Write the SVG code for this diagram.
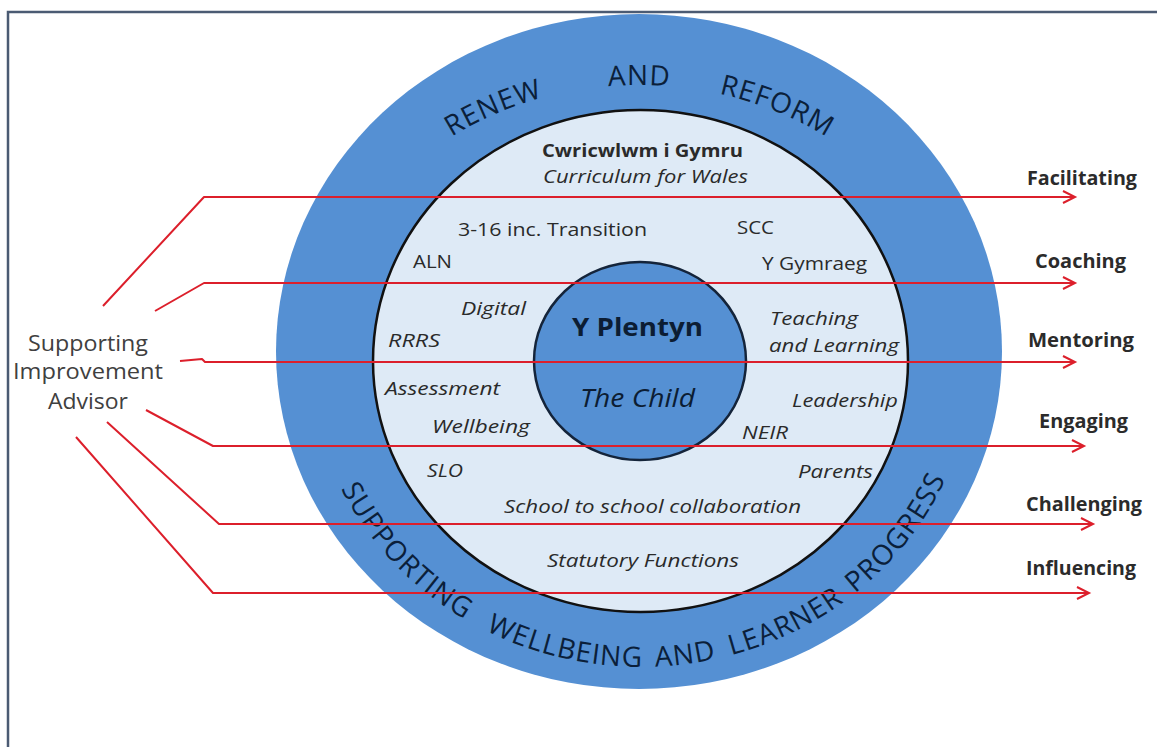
<svg xmlns="http://www.w3.org/2000/svg" width="1157" height="747" viewBox="0 0 1157 747">
<style>
.t{font-family:"Open Sans","Liberation Sans",sans-serif;font-size:18px;fill:#2a2a2a}
.i{font-style:italic}
.b{font-weight:bold}
.cw{font-size:17.5px}
.yp{font-size:25px;fill:#0c1d33}
.tc{font-size:26px;fill:#0c1d33}
.arc{font-family:"Open Sans","Liberation Sans",sans-serif;font-size:28px;font-weight:500;fill:#0b1f3a;letter-spacing:1px}
.lbl{font-family:"Open Sans","Liberation Sans",sans-serif;font-size:19.5px;font-weight:bold;fill:#2b2b2b}
.side{font-family:"Open Sans","Liberation Sans",sans-serif;font-size:22px;fill:#404040}
.conn{fill:none;stroke:#dc1f2b;stroke-width:2;stroke-linejoin:round}
</style>
<defs>
<marker id="ah" markerUnits="userSpaceOnUse" markerWidth="16" markerHeight="16" refX="13" refY="7" orient="auto">
<path d="M1,1 L13,7 L1,13" fill="none" stroke="#dc1f2b" stroke-width="2"/>
</marker>
<path id="topArc" d="M323,351 A316,266 0 0 1 955,351"/>
<path id="botArc" d="M309,355 A332,312 0 0 0 973,355"/>
</defs>
<rect width="1157" height="747" fill="#ffffff"/>
<g id="frame"><path d="M8,747 L8,12 L1157,12" fill="none" stroke="#4b5b73" stroke-width="2.5"/></g>

<g id="outer-ring">
<ellipse cx="639" cy="351.5" rx="363" ry="337.5" fill="#5590d3"/>
<text class="arc"><textPath href="#topArc" startOffset="311" text-anchor="middle">RENEW</textPath></text>
<text class="arc"><textPath href="#topArc" startOffset="458" text-anchor="middle">AND</textPath></text>
<text class="arc"><textPath href="#topArc" startOffset="597" text-anchor="middle">REFORM</textPath></text>
<text class="arc"><textPath href="#botArc" startOffset="230" text-anchor="middle">SUPPORTING</textPath></text>
<text class="arc"><textPath href="#botArc" startOffset="426" text-anchor="middle">WELLBEING</textPath></text>
<text class="arc"><textPath href="#botArc" startOffset="551" text-anchor="middle">AND</textPath></text>
<text class="arc"><textPath href="#botArc" startOffset="660" text-anchor="middle">LEARNER</textPath></text>
<text class="arc"><textPath href="#botArc" startOffset="810" text-anchor="middle">PROGRESS</textPath></text>
</g>

<g id="inner-ring">
<ellipse cx="640.5" cy="361" rx="267.5" ry="251" fill="#deeaf6" stroke="#111111" stroke-width="2.5"/>
<text class="t b cw" x="542" y="157" textLength="201" lengthAdjust="spacingAndGlyphs">Cwricwlwm i Gymru</text>
<text class="t i" x="543" y="183" textLength="205" lengthAdjust="spacingAndGlyphs">Curriculum for Wales</text>
<text class="t" x="458" y="236" textLength="189" lengthAdjust="spacingAndGlyphs">3-16 inc. Transition</text>
<text class="t" x="737" y="234" textLength="37" lengthAdjust="spacingAndGlyphs">SCC</text>
<text class="t" x="413" y="268" textLength="39" lengthAdjust="spacingAndGlyphs">ALN</text>
<text class="t" x="762" y="270" textLength="105" lengthAdjust="spacingAndGlyphs">Y Gymraeg</text>
<text class="t i" x="461" y="315" textLength="65" lengthAdjust="spacingAndGlyphs">Digital</text>
<text class="t i" x="388" y="347" textLength="52" lengthAdjust="spacingAndGlyphs">RRRS</text>
<text class="t i" x="770" y="325" textLength="88" lengthAdjust="spacingAndGlyphs">Teaching</text>
<text class="t i" x="769" y="352" textLength="130" lengthAdjust="spacingAndGlyphs">and Learning</text>
<text class="t i" x="385" y="395" textLength="115" lengthAdjust="spacingAndGlyphs">Assessment</text>
<text class="t i" x="792" y="407" textLength="106" lengthAdjust="spacingAndGlyphs">Leadership</text>
<text class="t i" x="432" y="433" textLength="98" lengthAdjust="spacingAndGlyphs">Wellbeing</text>
<text class="t i" x="742" y="439" textLength="46" lengthAdjust="spacingAndGlyphs">NEIR</text>
<text class="t i" x="427" y="477" textLength="36" lengthAdjust="spacingAndGlyphs">SLO</text>
<text class="t i" x="798" y="478" textLength="75" lengthAdjust="spacingAndGlyphs">Parents</text>
<text class="t i" x="504" y="513" textLength="297" lengthAdjust="spacingAndGlyphs">School to school collaboration</text>
<text class="t i" x="547" y="567" textLength="192" lengthAdjust="spacingAndGlyphs">Statutory Functions</text>
</g>

<g id="core-circle">
<ellipse cx="640" cy="361" rx="106" ry="99" fill="#5590d3" stroke="#14243a" stroke-width="2.5"/>
<text class="t b yp" x="572" y="336" textLength="131" lengthAdjust="spacingAndGlyphs">Y Plentyn</text>
<text class="t i tc" x="580" y="407" textLength="115" lengthAdjust="spacingAndGlyphs">The Child</text>
</g>

<g id="advisor">
<text class="side" x="28" y="351" textLength="120" lengthAdjust="spacingAndGlyphs">Supporting</text>
<text class="side" x="13" y="379" textLength="150" lengthAdjust="spacingAndGlyphs">Improvement</text>
<text class="side" x="48" y="409" textLength="80" lengthAdjust="spacingAndGlyphs">Advisor</text>
</g>

<g id="role-facilitating"><text class="lbl" x="1027" y="185" textLength="110" lengthAdjust="spacingAndGlyphs">Facilitating</text></g>
<g id="role-coaching"><text class="lbl" x="1035" y="268" textLength="91" lengthAdjust="spacingAndGlyphs">Coaching</text></g>
<g id="role-mentoring"><text class="lbl" x="1028" y="347" textLength="106" lengthAdjust="spacingAndGlyphs">Mentoring</text></g>
<g id="role-engaging"><text class="lbl" x="1039" y="428" textLength="89" lengthAdjust="spacingAndGlyphs">Engaging</text></g>
<g id="role-challenging"><text class="lbl" x="1026" y="511" textLength="116" lengthAdjust="spacingAndGlyphs">Challenging</text></g>
<g id="role-influencing"><text class="lbl" x="1026" y="575" textLength="110" lengthAdjust="spacingAndGlyphs">Influencing</text></g>

<g id="connectors">
<path class="conn" marker-end="url(#ah)" d="M103,306 L204,197 L1075,197"/>
<path class="conn" marker-end="url(#ah)" d="M155,311 L204,283 L1075,283"/>
<path class="conn" marker-end="url(#ah)" d="M180,361 L202,359 L205,362 L1075,362"/>
<path class="conn" marker-end="url(#ah)" d="M146,410 L213,446 L1084,446"/>
<path class="conn" marker-end="url(#ah)" d="M107,422 L219,524 L1093,524"/>
<path class="conn" marker-end="url(#ah)" d="M76,437 L213,593 L1089,593"/>
</g>
</svg>
